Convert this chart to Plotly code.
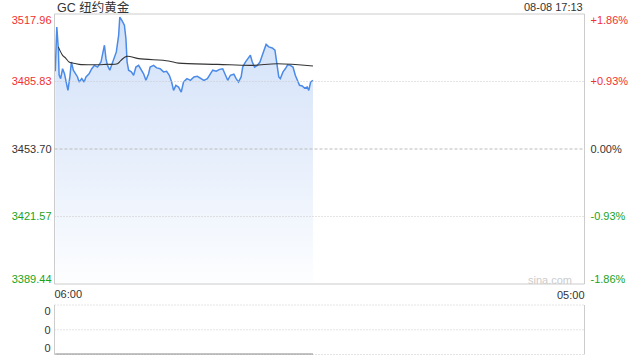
import plotly.graph_objects as go
from datetime import datetime, timedelta

# ---------------- data ----------------
TITLE = "GC 纽约黄金"
STAMP = "08-08 17:13"
BASE_DATE = "2025-08-08"
SESSION_START = "06:00"
SESSION_END = "05:00"          # next day

PRICE_TIMES = [
    "06:02", "06:06", "06:10", "06:12", "06:16", "06:21", "06:26", "06:31", "06:35", "06:40",
    "06:44", "06:49", "06:54", "07:00", "07:04", "07:11", "07:17", "07:22", "07:30", "07:37",
    "07:44", "07:52", "08:01", "08:07", "08:10", "08:14", "08:18", "08:24", "08:29", "08:35",
    "08:41", "08:47", "08:50", "08:55", "09:02", "09:06", "09:09", "09:13", "09:20", "09:26",
    "09:32", "09:39", "09:46", "09:52", "09:58", "10:05", "10:09", "10:18", "10:26", "10:35",
    "10:44", "10:52", "10:59", "11:05", "11:10", "11:16", "11:23", "11:30", "11:36", "11:45",
    "11:54", "12:03", "12:12", "12:20", "12:29", "12:38", "12:46", "12:52", "13:01", "13:10",
    "13:18", "13:24", "13:31", "13:38", "13:47", "13:53", "13:59", "14:06", "14:10", "14:17",
    "14:23", "14:30", "14:35", "14:41", "14:48", "14:55", "15:01", "15:07", "15:11", "15:18",
    "15:27", "15:34", "15:38", "15:44", "15:48", "15:55", "16:01", "16:07", "16:14", "16:21",
    "16:27", "16:33", "16:38", "16:45", "16:51", "16:58", "17:02", "17:07", "17:11", "17:13",
]
PRICES = [
    3490.7, 3511.8, 3501.4, 3488.9, 3487.2, 3491.9, 3489.5, 3484.2, 3481.6, 3488.0,
    3495.1, 3491.2, 3489.5, 3488.0, 3485.6, 3487.2, 3485.6, 3488.0, 3489.5, 3491.9,
    3493.5, 3492.7, 3495.1, 3499.9, 3503.1, 3496.7, 3493.5, 3491.2, 3493.5, 3496.7,
    3499.9, 3507.8, 3516.5, 3515.0, 3512.6, 3506.2, 3495.1, 3491.2, 3490.4, 3488.8,
    3492.7, 3493.5, 3491.2, 3489.5, 3486.4, 3489.5, 3492.7, 3493.5, 3492.3, 3491.9,
    3490.4, 3490.7, 3488.8, 3485.6, 3481.6, 3484.0, 3483.2, 3480.8, 3485.6, 3487.2,
    3486.4, 3488.0, 3488.3, 3487.2, 3486.4, 3487.2, 3489.5, 3491.2, 3490.7, 3491.6,
    3491.9, 3489.5, 3486.4, 3488.8, 3489.3, 3487.2, 3485.6, 3488.0, 3492.7, 3495.1,
    3496.7, 3498.3, 3495.1, 3492.7, 3493.5, 3495.1, 3498.3, 3501.4, 3503.5, 3502.3,
    3501.8, 3500.7, 3495.1, 3488.0, 3487.2, 3490.4, 3491.9, 3493.8, 3493.5, 3492.7,
    3488.8, 3485.6, 3484.0, 3483.7, 3482.7, 3483.2, 3481.6, 3485.6, 3486.4, 3486.4,
]

AVG_TIMES = ["06:10", "06:21", "06:29", "06:38", "06:47", "07:04", "07:39", "08:14", "08:44",
             "08:53", "09:08", "09:39", "10:57", "11:23", "13:05", "14:36", "15:40", "17:13"]
AVG_PRICES = [3502.3, 3498.3, 3497.0, 3495.1, 3494.6, 3494.0, 3493.8, 3494.0, 3494.3,
              3495.9, 3497.8, 3496.7, 3495.6, 3494.6, 3494.0, 3493.5, 3494.3, 3493.2]

VOLUMES = [0] * len(PRICE_TIMES)

PRICE_LEVELS = [3517.96, 3485.83, 3453.70, 3421.57, 3389.44]
PRICE_LABELS = ["3517.96", "3485.83", "3453.70", "3421.57", "3389.44"]
PCT_LABELS = ["+1.86%", "+0.93%", "0.00%", "-0.93%", "-1.86%"]
LEVEL_COLORS = ["#f23030", "#f23030", "#333333", "#1aa31a", "#1aa31a"]
VOL_LABELS = ["0", "0", "0"]
VOL_MAX = 2

# ---------------- helpers ----------------
base = datetime.strptime(BASE_DATE, "%Y-%m-%d")


def to_dt(hhmm, next_day=False):
    h, m = map(int, hhmm.split(":"))
    d = base + timedelta(hours=h, minutes=m)
    return d + timedelta(days=1) if next_day else d


t_price = [to_dt(t) for t in PRICE_TIMES]
t_avg = [to_dt(t) for t in AVG_TIMES]
t0 = to_dt(SESSION_START)
t1 = to_dt(SESSION_END, next_day=True)

FONT = "Arial, 'Liberation Sans', 'Noto Sans CJK SC', sans-serif"

# layout geometry (pixels of 640x360)
W, H = 640, 360
L, R = 54.5, 584.5
P_TOP, P_BOT = 14, 284
V_TOP, V_BOT = 305, 354.5
xd = [L / W, R / W]
pd_ = [1 - P_BOT / H, 1 - P_TOP / H]
vd = [1 - V_BOT / H, 1 - V_TOP / H]

pmin, pmax = PRICE_LEVELS[-1], PRICE_LEVELS[0]
per_px = (pmax - pmin) / (P_BOT - P_TOP)
# nudge first/last label inward, like the original
tickpos = list(PRICE_LEVELS)
tickpos[0] -= 6 * per_px
tickpos[-1] += 5 * per_px

fig = go.Figure()

# baseline for fill
fig.add_trace(go.Scatter(x=t_price, y=[pmin] * len(t_price), mode="lines",
                         line=dict(width=0, color="rgba(0,0,0,0)"), hoverinfo="skip",
                         showlegend=False, xaxis="x", yaxis="y"))
fig.add_trace(go.Scatter(
    x=t_price, y=PRICES, mode="lines", fill="tonexty",
    fillgradient=dict(type="vertical", start=pmin, stop=pmax,
                      colorscale=[[0, "rgba(253,254,255,1)"], [0.55, "rgb(227,236,251)"],
                                  [1, "rgb(210,225,248)"]]),
    line=dict(color="#4a8ae8", width=1.5), showlegend=False, xaxis="x", yaxis="y"))
fig.add_trace(go.Scatter(x=t_avg, y=AVG_PRICES, mode="lines",
                         line=dict(color="#333333", width=1.1, shape="spline"),
                         showlegend=False, xaxis="x", yaxis="y"))
# invisible trace for right axis
fig.add_trace(go.Scatter(x=[t0], y=[pmin], mode="markers", marker=dict(opacity=0),
                         showlegend=False, hoverinfo="skip", xaxis="x", yaxis="y2"))
# volume
fig.add_trace(go.Scatter(x=t_price, y=VOLUMES, mode="lines",
                         line=dict(color="#888888", width=2),
                         showlegend=False, xaxis="x2", yaxis="y3"))

left_text = [f'<span style="color:{c}">{s}</span>' for s, c in zip(PRICE_LABELS, LEVEL_COLORS)]
right_text = [f'<span style="color:{c}">{s}</span>' for s, c in zip(PCT_LABELS, LEVEL_COLORS)]

shapes = []
# price panel frame
shapes.append(dict(type="rect", xref="paper", yref="paper", x0=xd[0], x1=xd[1],
                   y0=pd_[0], y1=pd_[1], line=dict(color="#cccccc", width=1), layer="above"))
# price grid lines
for i, lv in enumerate(PRICE_LEVELS[1:-1], start=1):
    shapes.append(dict(type="line", xref="paper", yref="y", x0=xd[0], x1=xd[1], y0=lv, y1=lv,
                       line=dict(color="#bbbbbb" if i == 2 else "#c8c8c8", width=1,
                                 dash="3px,2px" if i == 2 else "1px,2px"), layer="above"))
# volume panel borders
shapes.append(dict(type="line", xref="paper", yref="paper", x0=xd[0], x1=xd[0], y0=vd[0], y1=vd[1],
                   line=dict(color="#cccccc", width=1)))
shapes.append(dict(type="line", xref="paper", yref="paper", x0=xd[1], x1=xd[1], y0=vd[0], y1=vd[1],
                   line=dict(color="#cccccc", width=1)))
for yv in (vd[0], (vd[0] + vd[1]) / 2, vd[1]):
    shapes.append(dict(type="line", xref="paper", yref="paper", x0=xd[0], x1=xd[1], y0=yv, y1=yv,
                       line=dict(color="#c8c8c8", width=1, dash="1px,2px"), layer="below"))

fig.update_layout(
    width=W, height=H, margin=dict(l=0, r=0, t=0, b=0),
    paper_bgcolor="white", plot_bgcolor="rgba(0,0,0,0)",
    font=dict(family=FONT, size=11, color="#333333"),
    hovermode=False,
    xaxis=dict(domain=xd, anchor="y", range=[t0, t1], showgrid=False, zeroline=False,
               showline=False, ticks="", tickvals=[t0], ticktext=[SESSION_START],
               ticklabelposition="outside right", ticklabelstandoff=2,
               tickfont=dict(size=11, color="#333333")),
    xaxis2=dict(domain=xd, anchor="y3", matches="x", range=[t0, t1], side="top",
                showgrid=False, zeroline=False, showline=False, ticks="",
                tickvals=[t1], ticktext=[SESSION_END], ticklabelposition="outside left",
                ticklabelstandoff=3, tickfont=dict(size=11, color="#333333")),
    yaxis=dict(domain=pd_, anchor="x", range=[pmin, pmax], showgrid=False, zeroline=False,
               showline=False, ticks="", tickvals=tickpos, ticktext=left_text,
               ticklabelstandoff=2, tickfont=dict(size=11)),
    yaxis2=dict(domain=pd_, anchor="x", overlaying="y", side="right", range=[pmin, pmax],
                showgrid=False, zeroline=False, showline=False, ticks="",
                tickvals=tickpos, ticktext=right_text, ticklabelstandoff=5,
                tickfont=dict(size=11)),
    yaxis3=dict(domain=vd, anchor="x2", range=[0, VOL_MAX], showgrid=False, zeroline=False,
                showline=False, ticks="", tickvals=[VOL_MAX * 0.875, VOL_MAX * 0.5, VOL_MAX * 0.125],
                ticktext=VOL_LABELS, ticklabelstandoff=3, tickfont=dict(size=11, color="#333333")),
    shapes=shapes,
    annotations=[
        dict(text=TITLE, xref="paper", yref="paper", x=xd[0], y=1 - 7.5 / H, xanchor="left",
             yanchor="middle", showarrow=False, font=dict(size=12.5, color="#333333")),
        dict(text=STAMP, xref="paper", yref="paper", x=xd[1], y=1 - 7 / H, xanchor="right",
             yanchor="middle", showarrow=False, font=dict(size=11, color="#333333")),
        dict(text="sina.com", xref="paper", yref="paper", x=(R - 11) / W, y=1 - 279.5 / H,
             xanchor="right", yanchor="middle", showarrow=False,
             font=dict(size=11, color="#cccccc")),
    ],
)

fig.write_html("out.html")
